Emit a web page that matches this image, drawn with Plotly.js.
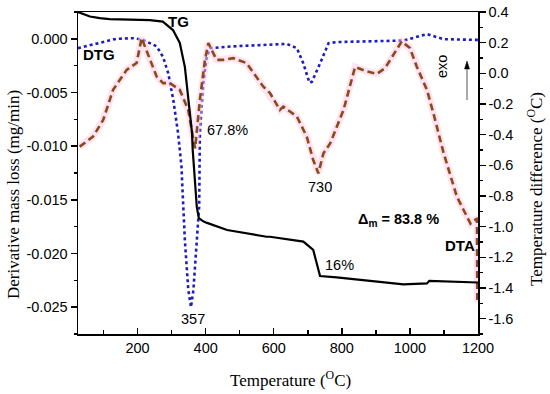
<!DOCTYPE html>
<html><head><meta charset="utf-8">
<script src="https://cdn.plot.ly/plotly-3.0.1.min.js"></script>
<style>html,body{margin:0;padding:0;background:#fff}#c{width:550px;height:394px}</style>
</head><body><div id="c"></div>
<script>
// TG (mass %, hidden scale)
const tgT = [25,60,89,118,236,274,304,324,339,348,360,362,368,374,380,393,404,463,579,589,687,716,736,785,883,981,1050,1057,1200];
const tgV = [100,98.6,98.1,97.8,97.5,97.0,94.4,90.4,82.9,74.8,62.4,57.1,48.8,39.4,36.0,35.0,34.5,32.3,30.2,30.2,28.7,26.1,18.0,17.6,16.5,15.4,15.7,16.5,16.0];
// DTG (mg/min, left axis)
const dtgT = [25,89,137,187,216,256,275,290,305,319,329,332,339,349,357,364,373,381,383,393,403,413,481,589,638,668,687,705,712,736,761,785,981,1050,1099,1200];
const dtgV = [-0.00087,-0.0004,0.0,0.00006,-0.0001,-0.0007,-0.0017,-0.0032,-0.0057,-0.0088,-0.0119,-0.0141,-0.0188,-0.0234,-0.025,-0.0234,-0.0188,-0.0156,-0.0088,-0.0041,-0.0017,-0.00087,-0.0007,-0.00056,-0.00047,-0.00087,-0.0023,-0.0041,-0.0040,-0.0023,-0.0004,-0.0003,-0.00016,0.00044,-0.00003,-0.0001];
// DTA (°C, right axis)
const dtaT = [30,69,99,128,168,197,212,226,256,275,295,324,349,364,369,383,398,408,432,452,481,520,569,589,618,628,668,697,716,731,746,766,805,839,874,903,927,976,1000,1020,1050,1069,1099,1138,1178,1187,1197,1198];
const dtaV = [-0.478,-0.413,-0.304,-0.108,0.023,0.067,0.23,0.154,-0.021,-0.064,-0.064,-0.108,-0.239,-0.435,-0.489,-0.173,0.088,0.197,0.088,0.088,0.099,0.067,-0.086,-0.129,-0.239,-0.217,-0.282,-0.413,-0.565,-0.652,-0.522,-0.456,-0.239,0.042,0.012,-0.003,0.034,0.208,0.165,0.045,-0.108,-0.26,-0.52,-0.805,-0.98,-0.96,-0.95,-1.49];

const traces = [
  {x: dtaT, y: dtaV, yaxis: 'y2', mode: 'lines', line: {color: 'rgba(255,200,225,0.5)', width: 7}, hoverinfo: 'skip', showlegend: false},
  {x: dtaT, y: dtaV, yaxis: 'y2', mode: 'lines', name: 'DTA', line: {color: '#8a4a1c', width: 2.6, dash: '7px,4px'}},
  {x: dtgT, y: dtgV, yaxis: 'y', mode: 'lines', name: 'DTG', line: {color: '#1c1cc4', width: 2.6, dash: 'dot'}},
  {x: tgT, y: tgV, yaxis: 'y3', mode: 'lines', name: 'TG', line: {color: '#000', width: 2.2}}
];

const tickFont = {family: 'Liberation Sans, Arial, sans-serif', size: 14.5, color: '#000'};
const titleFont = {family: 'Liberation Serif, Times New Roman, serif', size: 17, color: '#000'};
const annFont = (s) => ({family: 'Liberation Sans, Arial, sans-serif', size: s, color: '#000'});

const layout = {
  width: 550, height: 394,
  margin: {l: 78, r: 72, t: 12, b: 60},
  paper_bgcolor: '#fff', plot_bgcolor: '#fff',
  showlegend: false,
  xaxis: {
    range: [25, 1200], tickvals: [200,400,600,800,1000,1200],
    ticks: 'inside', ticklen: 6, tickwidth: 1.5, tickcolor: '#000',
    minor: {ticks: 'inside', ticklen: 4, tickvals: [100,300,500,700,900,1100], tickcolor: '#000'},
    showline: true, linecolor: '#000', linewidth: 1.5, mirror: true,
    showgrid: false, zeroline: false, tickfont: tickFont
  },
  yaxis: {
    range: [-0.0275, 0.0025], tickvals: [0,-0.005,-0.01,-0.015,-0.02,-0.025],
    ticktext: ['0.000','-0.005','-0.010','-0.015','-0.020','-0.025'],
    ticks: 'outside', ticklen: 6, tickwidth: 1.5, tickcolor: '#000',
    minor: {ticks: 'outside', ticklen: 3, tickvals: [0.0025,-0.0025,-0.0075,-0.0125,-0.0175,-0.0225,-0.0275], tickcolor: '#000'},
    showline: true, linecolor: '#000', linewidth: 1.5,
    showgrid: false, zeroline: false, tickfont: tickFont
  },
  yaxis2: {
    overlaying: 'y', side: 'right', range: [-1.70, 0.4],
    tickvals: [0.4,0.2,0,-0.2,-0.4,-0.6,-0.8,-1.0,-1.2,-1.4,-1.6],
    ticktext: ['0.4','0.2','0.0','-0.2','-0.4','-0.6','-0.8','-1.0','-1.2','-1.4','-1.6'],
    ticks: 'outside', ticklen: 6, tickwidth: 1.5, tickcolor: '#000',
    minor: {ticks: 'outside', ticklen: 3, tickvals: [0.3,0.1,-0.1,-0.3,-0.5,-0.7,-0.9,-1.1,-1.3,-1.5,-1.7], tickcolor: '#000'},
    showline: true, linecolor: '#000', linewidth: 1.5,
    showgrid: false, zeroline: false, tickfont: tickFont
  },
  yaxis3: {overlaying: 'y', range: [0, 100], visible: false},
  annotations: [
    {x: 178, y: 22, text: '<b>TG</b>', font: annFont(15)},
    {x: 99, y: 55, text: '<b>DTG</b>', font: annFont(15)},
    {x: 227, y: 130, text: '67.8%', font: annFont(14.5)},
    {x: 193, y: 319, text: '357', font: annFont(14.5)},
    {x: 320, y: 187, text: '730', font: annFont(14.5)},
    {x: 339, y: 265, text: '16%', font: annFont(14.5)},
    {x: 398, y: 220, text: '<b>Δ<sub>m</sub> = 83.8 %</b>', font: annFont(14.5)},
    {x: 460, y: 246, text: '<b>DTA</b>', font: annFont(15)},
    {x: 442, y: 67, text: 'exo', textangle: -90, font: annFont(14.5)},
    // axis titles
    {x: 290, y: 379, text: 'Temperature (<sup>O</sup>C)', font: titleFont},
    {x: 13, y: 195, text: 'Derivative mass loss (mg/min)', textangle: -90, font: titleFont},
    {x: 535, y: 189, text: 'Temperature difference (<sup>O</sup>C)', textangle: -90, font: titleFont}
  ]
};
// annotations are positioned by their pixel centre on the 550x394 page
const L = 78, R = 478, T = 12, B = 334;
const px = (v) => (v - L) / (R - L), py = (v) => (B - v) / (B - T);
layout.annotations.forEach(a => {
  a.xref = 'paper'; a.yref = 'paper'; a.showarrow = false;
  a.xanchor = 'center'; a.yanchor = 'middle';
  a.x = px(a.x); a.y = py(a.y);
});
layout.shapes = [
  {type: 'line', xref: 'paper', yref: 'paper', x0: px(467), x1: px(467), y0: py(100), y1: py(67), line: {color: '#555', width: 1}},
  {type: 'path', xref: 'paper', yref: 'paper',
   path: 'M ' + px(464.5) + ' ' + py(69) + ' L ' + px(467) + ' ' + py(61) + ' L ' + px(469.5) + ' ' + py(69) + ' Z',
   fillcolor: '#000', line: {color: '#000', width: 0.5}}
];

Plotly.newPlot('c', traces, layout, {displayModeBar: false, staticPlot: true});
</script>
</body></html>
